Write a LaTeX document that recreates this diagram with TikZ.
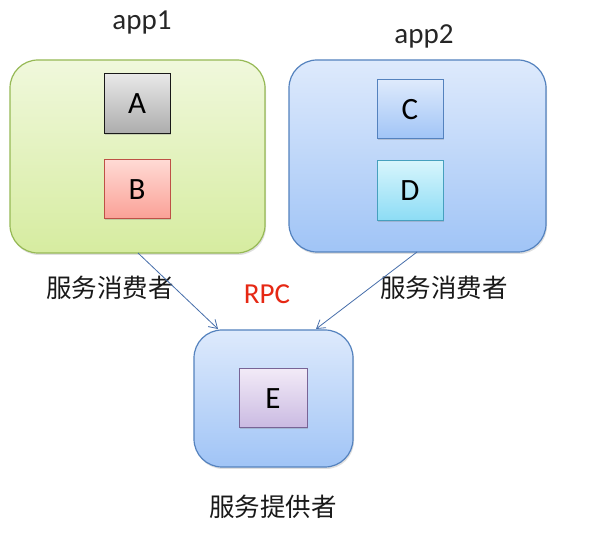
\documentclass[tikz,border=0pt]{standalone}
\usepackage{fontspec}
\setmainfont{Carlito}
\newfontfamily\cjk{Noto Sans CJK SC}
\usetikzlibrary{shadows,arrows.meta}
\definecolor{grnB}{RGB}{150,185,85}
\definecolor{grnT}{RGB}{240,248,220}
\definecolor{grnM}{RGB}{214,236,160}
\definecolor{bluB}{RGB}{84,130,190}
\definecolor{bluT}{RGB}{222,234,252}
\definecolor{bluM}{RGB}{160,196,246}
\definecolor{rpcred}{RGB}{230,40,20}
\definecolor{arrowc}{RGB}{70,110,170}
\definecolor{aT}{RGB}{232,232,232}
\definecolor{aB}{RGB}{172,172,172}
\definecolor{bT}{RGB}{255,218,212}
\definecolor{bB}{RGB}{250,160,150}
\definecolor{bD}{RGB}{190,80,70}
\definecolor{dT}{RGB}{215,245,252}
\definecolor{dB}{RGB}{140,220,245}
\definecolor{dD}{RGB}{70,160,190}
\definecolor{eT}{RGB}{242,234,247}
\definecolor{eB}{RGB}{202,186,226}
\definecolor{eD}{RGB}{120,100,150}
\tikzset{
  app/.style={rounded corners=28pt, line width=1.2pt, drop shadow={shadow xshift=1pt,shadow yshift=-2pt,opacity=0.25}},
  greenapp/.style={app, draw=grnB, top color=grnT, bottom color=grnM},
  blueapp/.style={app, draw=bluB, top color=bluT, bottom color=bluM},
  comp/.style={line width=1pt, font=\fontsize{31}{33}\selectfont, drop shadow={shadow xshift=1pt,shadow yshift=-1.5pt,opacity=0.3}},
  lbl/.style={font=\fontsize{29}{31}\selectfont, text=black!85},
  cjklbl/.style={font=\cjk\fontsize{25.5}{28}\selectfont, text=black!90},
  conn/.style={draw=arrowc, line width=0.8pt, -{Straight Barb[length=8pt,width=10pt,line width=0.8pt]}}
}
\begin{document}
\begin{tikzpicture}[x=1pt,y=-1pt]
\useasboundingbox[fill=white] (0,0) rectangle (611,537);
% app boxes
\path[greenapp] (10,60) rectangle (265,253);
\coordinate (app1b) at (138,253);
\path[blueapp] (289,60) rectangle (546,252);
\coordinate (app2b) at (417,252);
\path[blueapp] (194,330) rectangle (353,467);
% components
\node[comp, draw=black!90, top color=aT, bottom color=aB, minimum width=66pt, minimum height=60pt] (A) at (137,104) {A};
\node[comp, draw=bD, top color=bT, bottom color=bB, minimum width=66pt, minimum height=59pt] (B) at (137,189.5) {B};
\node[comp, draw=bluB, top color=bluT, bottom color=bluM, minimum width=66pt, minimum height=59pt] (C) at (410,109.5) {C};
\node[comp, draw=dD, top color=dT, bottom color=dB, minimum width=66pt, minimum height=60pt] (D) at (410,191) {D};
\node[comp, draw=eD, top color=eT, bottom color=eB, minimum width=68pt, minimum height=59pt] (E) at (273,398.5) {E};
% labels
\node[lbl] (l1) at (142,23) {app1};
\node[lbl] (l2) at (424,36) {app2};
\node[cjklbl] (c1) at (110,288) {服务消费者};
\node[cjklbl] (c2) at (444,288) {服务消费者};
\node[lbl, text=rpcred] (rpc) at (267,294) {RPC};
\node[cjklbl] (p) at (273,507) {服务提供者};
% connectors
\coordinate (e1) at (218,329);
\coordinate (e2) at (316,329);
\draw[conn] (app1b) -- (e1);
\draw[conn] (app2b) -- (e2);
\end{tikzpicture}
\end{document}
